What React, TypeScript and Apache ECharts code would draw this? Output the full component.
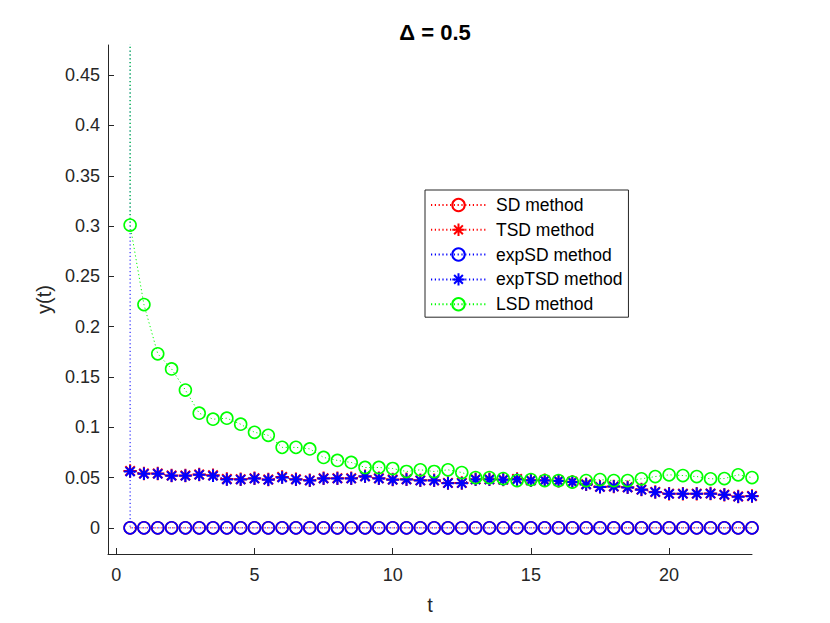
import React, { useEffect, useRef } from "react";
import * as echarts from "echarts";

const tValues = [
  0.5, 1, 1.5, 2, 2.5, 3, 3.5, 4, 4.5, 5, 5.5, 6, 6.5, 7, 7.5, 8, 8.5, 9, 9.5, 10,
  10.5, 11, 11.5, 12, 12.5, 13, 13.5, 14, 14.5, 15, 15.5, 16, 16.5, 17, 17.5, 18,
  18.5, 19, 19.5, 20, 20.5, 21, 21.5, 22, 22.5, 23,
];

const sdValues = [
  0, 0, 0, 0, 0, 0, 0, 0, 0, 0, 0, 0, 0, 0, 0, 0, 0, 0, 0, 0, 0, 0, 0, 0, 0, 0, 0,
  0, 0, 0, 0, 0, 0, 0, 0, 0, 0, 0, 0, 0, 0, 0, 0, 0, 0, 0,
];

const tsdValues = [
  0.0565, 0.054, 0.054, 0.052, 0.052, 0.053, 0.0522, 0.0485, 0.0483, 0.0492,
  0.048, 0.0505, 0.0483, 0.0472, 0.0493, 0.0493, 0.0492, 0.0513, 0.0492, 0.048,
  0.0483, 0.0472, 0.0472, 0.0447, 0.0447, 0.0484, 0.0484, 0.048, 0.0485, 0.0473,
  0.0473, 0.0468, 0.0458, 0.0433, 0.0408, 0.0412, 0.0403, 0.038, 0.0357, 0.034,
  0.034, 0.034, 0.0342, 0.033, 0.0312, 0.0317,
];

const expSdValues = [
  0, 0, 0, 0, 0, 0, 0, 0, 0, 0, 0, 0, 0, 0, 0, 0, 0, 0, 0, 0, 0, 0, 0, 0, 0, 0, 0,
  0, 0, 0, 0, 0, 0, 0, 0, 0, 0, 0, 0, 0, 0, 0, 0, 0, 0, 0,
];

const expTsdValues = [
  0.056, 0.0537, 0.0537, 0.0517, 0.0517, 0.0527, 0.0517, 0.048, 0.048, 0.049,
  0.0477, 0.05, 0.048, 0.047, 0.049, 0.049, 0.049, 0.051, 0.049, 0.0477, 0.048,
  0.047, 0.047, 0.0444, 0.0444, 0.048, 0.048, 0.0477, 0.048, 0.047, 0.047, 0.0465,
  0.0455, 0.043, 0.0405, 0.041, 0.04, 0.0378, 0.0355, 0.0338, 0.0338, 0.0338,
  0.034, 0.0328, 0.031, 0.0315,
];

const lsdValues = [
  0.301, 0.222, 0.173, 0.158, 0.137, 0.114, 0.108, 0.109, 0.103, 0.095, 0.092,
  0.08, 0.08, 0.0785, 0.07, 0.067, 0.065, 0.06, 0.06, 0.059, 0.056, 0.0577, 0.056,
  0.0577, 0.055, 0.05, 0.05, 0.049, 0.047, 0.048, 0.047, 0.047, 0.0455, 0.047,
  0.048, 0.047, 0.047, 0.0487, 0.051, 0.0527, 0.052, 0.051, 0.0487, 0.049, 0.0527,
  0.05,
];

// value that precedes the first sample (far above the visible range)
const startSpike = 5;

const xTicks = [0, 5, 10, 15, 20];
const yTicks = [0, 0.05, 0.1, 0.15, 0.2, 0.25, 0.3, 0.35, 0.4, 0.45];

const seriesNames = ["SD method", "TSD method", "expSD method", "expTSD method", "LSD method"];

const FONT = "'Liberation Sans', Arial, Helvetica, sans-serif";
const AXIS = "#262626";
const STAR = "path://M0,-10L0,10M-10,0L10,0M-7.07,-7.07L7.07,7.07M-7.07,7.07L7.07,-7.07";

function pairs(vals: number[], spike?: number) {
  const d: any[] = tValues.map((t, i) => [t, vals[i]]);
  if (spike !== undefined) {
    d.unshift({ value: [tValues[0], spike], symbol: "none" });
  }
  return d;
}

function lineSeries(
  name: string,
  color: string,
  vals: number[],
  kind: "circle" | "star",
  size: number,
  spike?: number
) {
  const isStar = kind === "star";
  return {
    name,
    type: "line",
    data: pairs(vals, spike),
    clip: true,
    symbol: isStar ? STAR : "circle",
    symbolSize: size,
    showAllSymbol: true,
    lineStyle: { color, width: 1, type: [1.2, 2.6] },
    itemStyle: {
      color: isStar ? color : "rgba(0,0,0,0)",
      borderColor: color,
      borderWidth: isStar ? 2 : 1.6,
    },
    emphasis: { disabled: true },
  };
}

export default function App() {
  const ref = useRef<HTMLDivElement>(null);

  useEffect(() => {
    if (!ref.current) return;
    const chart = echarts.init(ref.current, undefined, { renderer: "svg" });
    chart.setOption({
      animation: false,
      backgroundColor: "#ffffff",
      title: {
        text: "Δ = 0.5",
        left: 430,
        textAlign: "center",
        top: 16,
        textStyle: { fontFamily: FONT, fontSize: 22, fontWeight: "bold", color: "#000" },
      },
      legend: {
        data: seriesNames,
        orient: "vertical",
        left: 425,
        top: 190,
        itemWidth: 55,
        itemHeight: 15.5,
        itemGap: 6.8,
        padding: [6, 6, 4, 5],
        borderColor: AXIS,
        borderWidth: 1,
        backgroundColor: "#fff",
        textStyle: {
          fontFamily: FONT,
          fontSize: 17.5,
          lineHeight: 15.5,
          color: "#000",
          padding: [0, 0, 0, 5],
        },
      },
      grid: { left: 108, right: 78, top: 45, bottom: 69, containLabel: false },
      xAxis: {
        type: "value",
        min: -0.3,
        max: 23,
        name: "t",
        nameLocation: "middle",
        nameGap: 41,
        nameTextStyle: { fontFamily: FONT, fontSize: 20, color: AXIS },
        axisLine: { show: true, onZero: false, lineStyle: { color: AXIS, width: 1 } },
        axisTick: { show: true, inside: true, length: 6, customValues: xTicks, lineStyle: { color: AXIS } },
        axisLabel: {
          customValues: xTicks,
          fontFamily: FONT,
          fontSize: 18,
          color: AXIS,
          margin: 12,
          formatter: (v: number) => String(v),
        },
        splitLine: { show: false },
      },
      yAxis: {
        type: "value",
        min: -0.026,
        max: 0.48,
        name: "y(t)",
        nameLocation: "middle",
        nameGap: 53,
        nameRotate: 90,
        nameTextStyle: { fontFamily: FONT, fontSize: 20, color: AXIS },
        axisLine: { show: true, onZero: false, lineStyle: { color: AXIS, width: 1 } },
        axisTick: { show: true, inside: true, length: 6, customValues: yTicks, lineStyle: { color: AXIS } },
        axisLabel: {
          customValues: yTicks,
          fontFamily: FONT,
          fontSize: 18,
          color: AXIS,
          margin: 8,
          formatter: (v: number) => String(v),
        },
        splitLine: { show: false },
      },
      series: [
        lineSeries(seriesNames[0], "#ff0000", sdValues, "circle", 12),
        lineSeries(seriesNames[1], "#ff0000", tsdValues, "star", 13.5),
        lineSeries(seriesNames[2], "#0000ff", expSdValues, "circle", 12, startSpike),
        lineSeries(seriesNames[3], "#0000ff", expTsdValues, "star", 12.5),
        lineSeries(seriesNames[4], "#00ff00", lsdValues, "circle", 12, startSpike),
      ],
    });
    return () => chart.dispose();
  }, []);

  return (
    <div
      ref={ref}
      style={{ position: "absolute", left: 0, top: 0, width: 830, height: 623, background: "#fff" }}
    />
  );
}
